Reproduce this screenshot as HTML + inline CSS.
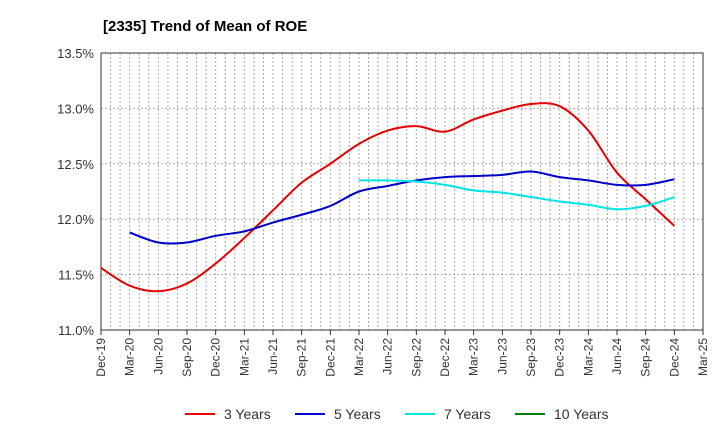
<!DOCTYPE html>
<html><head><meta charset="utf-8"><style>
body{margin:0;background:#fff;font-family:"Liberation Sans",sans-serif;}
</style></head><body>
<svg id="c" width="720" height="440" xmlns="http://www.w3.org/2000/svg">
<text x="103" y="31" font-size="15" font-weight="bold" fill="#000">[2335]  Trend of Mean of ROE</text>
</svg>
<script>
const tickLabels=["Dec-19","Mar-20","Jun-20","Sep-20","Dec-20","Mar-21","Jun-21","Sep-21","Dec-21","Mar-22","Jun-22","Sep-22","Dec-22","Mar-23","Jun-23","Sep-23","Dec-23","Mar-24","Jun-24","Sep-24","Dec-24","Mar-25"];
const yTicks=[11.0,11.5,12.0,12.5,13.0,13.5];
const seriesNames=["3 Years","5 Years","7 Years","10 Years"];
const seriesColors=["#e60000","#0000cc","#00e5e5","#008000"];
// quarterly values, index = quarter offset from Dec-19
const s3=[11.56,11.40,11.35,11.42,11.60,11.83,12.08,12.33,12.50,12.68,12.80,12.84,12.79,12.90,12.98,13.04,13.02,12.80,12.42,12.18,11.94];
const s5=[null,11.88,11.79,11.79,11.85,11.89,11.97,12.04,12.12,12.25,12.30,12.35,12.38,12.39,12.40,12.43,12.38,12.35,12.31,12.31,12.36];
const s7=[null,null,null,null,null,null,null,null,null,12.35,12.35,12.34,12.31,12.26,12.24,12.20,12.16,12.13,12.09,12.12,12.20];
const s10=[];
const svg=document.getElementById('c');const NS="http://www.w3.org/2000/svg";
const L=101,R=703,T=53,B=330,yMin=11,yMax=13.5,nQ=21;
const xq=q=>L+(R-L)*q/nQ;
const y=v=>B-(v-yMin)/(yMax-yMin)*(B-T);
function mk(t,a,p){const e=document.createElementNS(NS,t);for(const k in a)e.setAttribute(k,a[k]);(p||svg).appendChild(e);return e;}
const g=mk('g',{});


for(let m=1;m<nQ*3;m++){const x=L+(R-L)*m/(nQ*3);mk('line',{x1:x,x2:x,y1:T,y2:B,stroke:'#aaa','stroke-width':1,'stroke-dasharray':'2,2'},g);}
yTicks.forEach((v,i)=>{if(i>0&&i<yTicks.length-1)mk('line',{x1:L,x2:R,y1:y(v),y2:y(v),stroke:'#aaa','stroke-width':1,'stroke-dasharray':'2,2'},g);
const t=mk('text',{x:L-7,y:y(v)+5,'font-size':13,'text-anchor':'end',fill:'#333'});t.textContent=v.toFixed(1)+'%';

});
const fr=mk('rect',{x:L,y:T,width:R-L,height:B-T,fill:'none',stroke:'#333','stroke-width':1});


tickLabels.forEach((s,i)=>{const x=xq(i);mk('line',{x1:x,x2:x,y1:B,y2:B+5,stroke:'#333'});
const t=mk('text',{transform:`translate(${x+4},${B+8}) rotate(-90)`,'font-size':12,'text-anchor':'end',fill:'#333'});t.textContent=s;

});
function path(arr){const pts=[];arr.forEach((v,i)=>{if(v!=null)pts.push([xq(i),y(v)]);});if(pts.length<2)return '';
let d=`M${pts[0][0]},${pts[0][1]}`;for(let i=0;i<pts.length-1;i++){const p0=pts[i-1]||pts[i],p1=pts[i],p2=pts[i+1],p3=pts[i+2]||p2;
d+=` C${p1[0]+(p2[0]-p0[0])/6},${p1[1]+(p2[1]-p0[1])/6} ${p2[0]-(p3[0]-p1[0])/6},${p2[1]-(p3[1]-p1[1])/6} ${p2[0]},${p2[1]}`;}return d;}
[s3,s5,s7,s10].forEach((a,i)=>{const d=path(a);if(!d)return;const p=mk('path',{d,fill:'none',stroke:seriesColors[i],'stroke-width':2});

});
const lx=[185,295,405,515];
seriesNames.forEach((n,i)=>{const lg=mk('g',{});


mk('line',{x1:lx[i],x2:lx[i]+30,y1:414,y2:414,stroke:seriesColors[i],'stroke-width':2},lg);
const t=mk('text',{x:lx[i]+39,y:419,'font-size':14,fill:'#333'},lg);t.textContent=n;});
</script>
</body></html>
